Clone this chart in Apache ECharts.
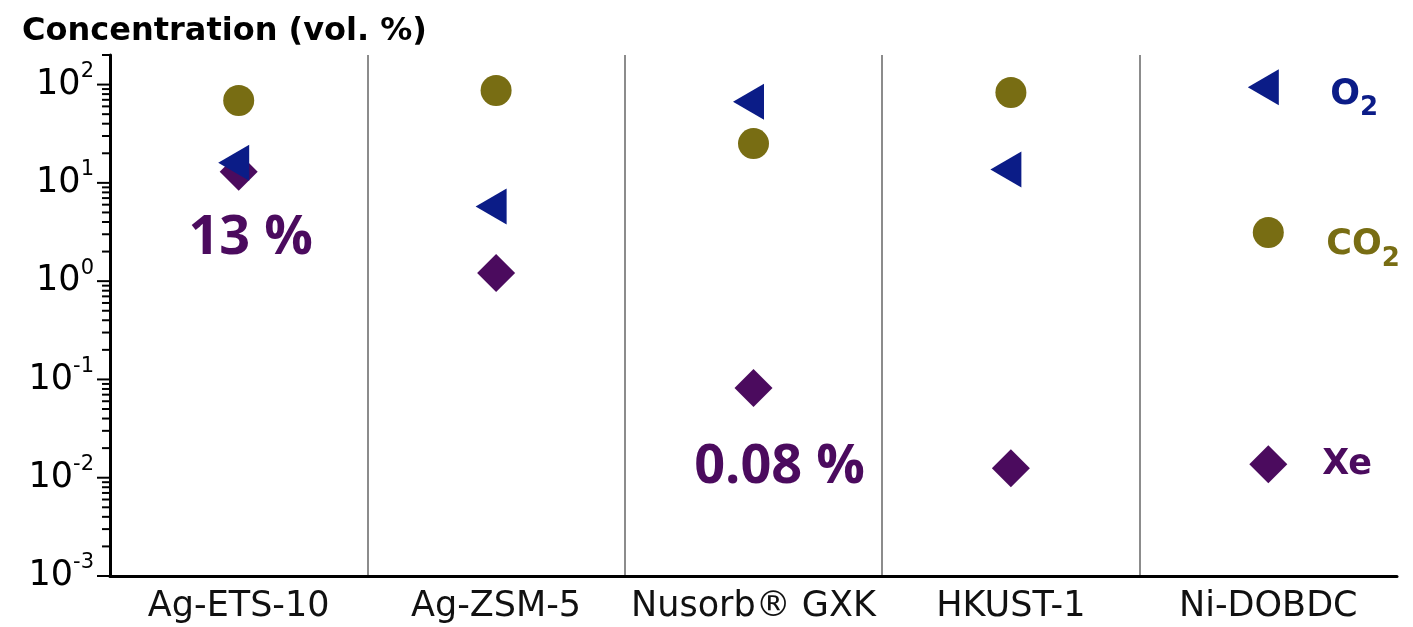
<!DOCTYPE html>
<html><head><meta charset="utf-8">
<script src="https://cdn.jsdelivr.net/npm/echarts@6/dist/echarts.min.js"></script>
<style>html,body{margin:0;padding:0;background:#fff}#c{width:1413px;height:627px}</style>
</head><body><div id="c"></div>
<script>
// ---- data ----
const categories = ['Ag-ETS-10', 'Ag-ZSM-5', 'Nusorb® GXK', 'HKUST-1', 'Ni-DOBDC'];
const o2Values  = [16, 5.75, 67, 13.7, 94];
const co2Values = [69, 87, 25.1, 83, 3.13];
const xeValues  = [13, 1.21, 0.082, 0.0125, 0.0137];
const yMin = 0.001;
const yMax = 200;
const yTickExponents = [-3, -2, -1, 0, 1, 2];
const minorMultipliers = [2, 3, 4, 5, 6, 7, 8, 9];
const titleText = 'Concentration (vol. %)';
const annotations = { 0: '13 %', 2: '0.08 %' };   // Xe percentages shown under points

const C_O2 = '#0b1c87', C_CO2 = '#786d13', C_XE = '#4b0b5e';

// tick list (axis ticks, major + minor) for a log axis
const tickData = [];
yTickExponents.forEach(e => {
  tickData.push([0, Math.pow(10, e), 1]);
  minorMultipliers.forEach(m => {
    const v = m * Math.pow(10, e);
    if (v <= yMax) tickData.push([0, v, 0]);
  });
});

const chart = echarts.init(document.getElementById('c'), null, { renderer: 'canvas' });

const xeData = xeValues.map((v, i) => {
  const item = { value: v };
  if (annotations[i] !== undefined) {
    item.label = {
      show: true, position: 'inside', formatter: annotations[i],
      fontFamily: 'Open Sans', fontWeight: 'bold', fontSize: 54, color: C_XE,
      offset: i === 0 ? [12, 67] : [26, 80]
    };
  }
  if (i === xeValues.length - 1) {
    item.label = {
      show: true, position: 'inside', align: 'left', formatter: 'Xe',
      fontFamily: 'DejaVu Sans', fontWeight: 'bold', fontSize: 35, color: C_XE,
      offset: [54, 1]
    };
  }
  return item;
});

function subLabel(main, color, offset) {
  return {
    show: true, position: 'inside', align: 'left', verticalAlign: 'middle',
    formatter: '{m|' + main + '}{s|2}', offset: offset,
    rich: {
      m: { fontFamily: 'DejaVu Sans', fontWeight: 'bold', fontSize: 35, lineHeight: 54, color: color },
      s: { fontFamily: 'DejaVu Sans', fontWeight: 'bold', fontSize: 26, lineHeight: 26, verticalAlign: 'bottom', color: color }
    }
  };
}

const co2Data = co2Values.map((v, i) => i === co2Values.length - 1 ? { value: v, label: subLabel('CO', C_CO2, [58, 12.5]) } : v);
const o2Data = o2Values.map((v, i) => i === o2Values.length - 1 ? { value: v, label: subLabel('O', C_O2, [67, 7.5]) } : v);

const option = {
  animation: false,
  backgroundColor: '#fff',
  title: {
    text: titleText, left: 17, top: 11,
    textStyle: { fontFamily: 'DejaVu Sans', fontWeight: 'bold', fontSize: 32, color: '#000' }
  },
  grid: { left: 110, right: 16, top: 55, bottom: 51, outerBoundsMode: 'none' },
  xAxis: {
    type: 'category', data: categories, boundaryGap: true,
    axisLine: { show: true, lineStyle: { color: '#000', width: 3 } },
    axisTick: { show: false },
    axisLabel: { fontFamily: 'DejaVu Sans', fontSize: 35, color: '#111', margin: 13, interval: 0 },
    splitLine: { show: true, showMinLine: false, showMaxLine: false, lineStyle: { color: '#8c8c8c', width: 2 } }
  },
  yAxis: {
    type: 'log', logBase: 10, min: yMin, max: yMax,
    axisLine: { show: true, lineStyle: { color: '#000', width: 3 } },
    axisTick: { show: false },
    splitLine: { show: false },
    axisLabel: {
      margin: 16,
      formatter: function (v) {
        const lg = Math.log10(v);
        const e = Math.round(lg);
        if (Math.abs(lg - e) > 1e-6 || yTickExponents.indexOf(e) < 0) return '';
        return '{b|10}{s|' + e + '}';
      },
      rich: {
        b: { fontFamily: 'DejaVu Sans', fontSize: 35, lineHeight: 47, color: '#000' },
        s: { fontFamily: 'DejaVu Sans', fontSize: 21, lineHeight: 20, verticalAlign: 'top', color: '#000' }
      }
    }
  },
  series: [
    {
      name: 'ticks', type: 'custom', clip: false, silent: true, z: 5,
      data: tickData, encode: { x: 0, y: 1 },
      renderItem: function (params, api) {
        const y = api.coord([0, api.value(1)])[1];
        const x0 = params.coordSys.x;
        const len = api.value(2) ? 13 : 8;
        return { type: 'line', shape: { x1: x0 - len, y1: y, x2: x0, y2: y },
                 style: { stroke: '#000', lineWidth: 2 } };
      }
    },
    { name: 'Xe', type: 'scatter', symbol: 'diamond', symbolSize: 38, itemStyle: { color: C_XE, opacity: 1 }, data: xeData },
    { name: 'CO2', type: 'scatter', symbol: 'circle', symbolSize: 31, itemStyle: { color: C_CO2, opacity: 1 }, data: co2Data },
    { name: 'O2', type: 'scatter', symbol: 'triangle', symbolRotate: 90, symbolSize: [36, 31], symbolOffset: [-5, 0],
      itemStyle: { color: C_O2, opacity: 1 }, data: o2Data }
  ]
};
chart.setOption(option);
</script>
</body></html>
